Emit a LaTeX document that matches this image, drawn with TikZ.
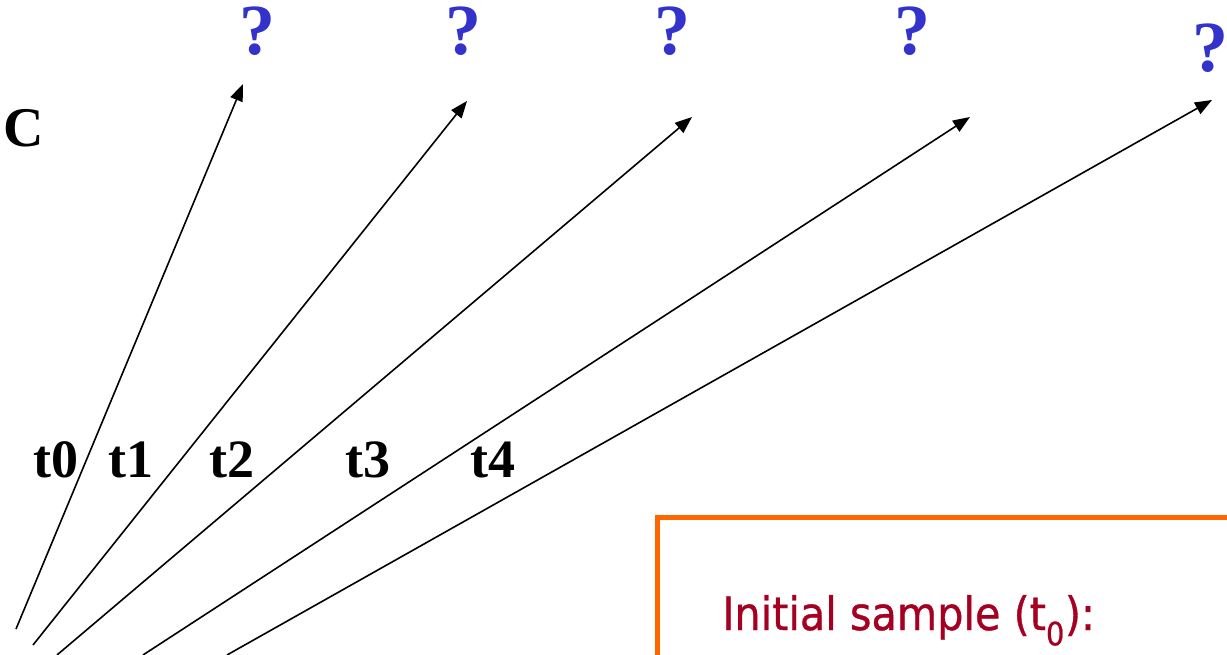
\documentclass[tikz,border=0pt]{standalone}
\usepackage{fontspec}
\setmainfont{Liberation Serif}
\newfontfamily\boxfont[FakeBold=0.8]{DejaVu Sans}
\usetikzlibrary{arrows.meta}
\definecolor{qblue}{HTML}{3333CC}
\definecolor{boxorange}{HTML}{FF6600}
\definecolor{boxred}{HTML}{A50021}
\tikzset{
  ray/.style={line width=1.6pt,-{Triangle[length=17pt,width=13pt]}},
  qmark/.style={text=qblue,font=\fontsize{72}{72}\selectfont\bfseries,inner sep=0pt},
  tlabel/.style={font=\fontsize{54}{54}\selectfont\bfseries,inner sep=0pt},
  sample/.style={draw=boxorange,line width=5pt},
  boxtext/.style={text=boxred,font=\boxfont\fontsize{46}{46}\selectfont,inner sep=0pt,anchor=base west}
}
\begin{document}
\begin{tikzpicture}[x=1pt,y=-1pt]
\useasboundingbox (0,0) rectangle (1227,655);
\clip (0,0) rectangle (1227,655);
% start points
\coordinate (s0) at (16,629);
\coordinate (s1) at (33,645);
\coordinate (s2) at (57,655);
\coordinate (s3) at (143,655);
\coordinate (s4) at (227,655);
% tips
\coordinate (e0) at (243,84);
\coordinate (e1) at (467,101);
\coordinate (e2) at (692,117);
\coordinate (e3) at (970,117);
\coordinate (e4) at (1212,100);
\draw[ray] (s0) -- (e0);
\draw[ray] (s1) -- (e1);
\draw[ray] (s2) -- (e2);
\draw[ray] (s3) -- (e3);
\draw[ray] (s4) -- (e4);
% question marks
\node[qmark] (q0) at (257,31) {?};
\node[qmark] (q1) at (463,31) {?};
\node[qmark] (q2) at (672,31) {?};
\node[qmark] (q3) at (912,31) {?};
\node[qmark] (q4) at (1210,48) {?};
% labels
\node[tlabel,font=\fontsize{56}{56}\selectfont\bfseries] (c) at (24,128) {C};
\node[tlabel] (t0) at (56,460) {t0};
\node[tlabel] (t1) at (131,460) {t1};
\node[tlabel] (t2) at (232,460) {t2};
\node[tlabel] (t3) at (368,460) {t3};
\node[tlabel] (t4) at (493,460) {t4};
% box
\draw[sample] (1240,517.5) -- (657.5,517.5) -- (657.5,670);
\node[boxtext] (init) at (722,630) {\scalebox{0.9}[1]{Initial sample (t\textsubscript{0}):}};
\end{tikzpicture}
\end{document}
